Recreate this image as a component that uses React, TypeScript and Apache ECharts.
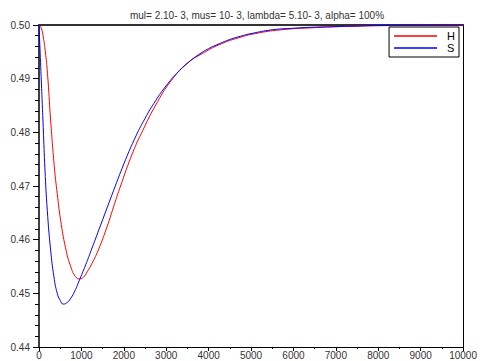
import React, { useEffect, useRef } from "react";
import * as echarts from "echarts";

const titleText = "mul= 2.10- 3, mus= 10- 3, lambda= 5.10- 3, alpha= 100%";

const hTime = [0, 50, 100, 150, 200, 274, 368, 430, 509, 626, 743, 861, 955, 1050, 1135, 1250, 1400, 1600, 1761, 1901, 2214, 2450, 2739, 3114, 3490, 3900, 4300, 4700, 5100, 5700, 6500, 7500, 8500, 10000];
const hValues = [0.5, 0.4995, 0.4978, 0.495, 0.491, 0.4823, 0.473, 0.4686, 0.4637, 0.4585, 0.4551, 0.4531, 0.4527, 0.453, 0.454, 0.4556, 0.4581, 0.4623, 0.4662, 0.4695, 0.4763, 0.4804, 0.4849, 0.4896, 0.4928, 0.4949, 0.4965, 0.4976, 0.4984, 0.4991, 0.4995, 0.4998, 0.4999, 0.5];

const sTime = [0, 50, 100, 141, 195, 274, 352, 430, 500, 571, 650, 743, 861, 939, 1100, 1230, 1500, 1761, 2000, 2250, 2500, 2750, 3000, 3250, 3500, 3750, 4000, 4250, 4500, 4750, 5000, 5500, 6000, 6500, 7000, 7500, 8000, 9000, 10000];
const sValues = [0.5, 0.4904, 0.4809, 0.473, 0.4655, 0.4581, 0.4531, 0.45, 0.4487, 0.448, 0.4482, 0.449, 0.4507, 0.4522, 0.4553, 0.458, 0.4637, 0.4692, 0.4741, 0.4787, 0.4826, 0.4859, 0.4887, 0.491, 0.4929, 0.4944, 0.4956, 0.4965, 0.4973, 0.4979, 0.4984, 0.4991, 0.4994, 0.4996, 0.4997, 0.4998, 0.4999, 0.49995, 0.5];

const seriesNames = ["H", "S"];

export default function App() {
  const ref = useRef<HTMLDivElement>(null);
  useEffect(() => {
    if (!ref.current) return;
    const chart = echarts.init(ref.current, null, { renderer: "svg" });
    const font = "Liberation Sans, Arial, sans-serif";
    chart.setOption({
      animation: false,
      textStyle: { fontFamily: font },
      title: {
        text: titleText,
        left: 252,
        textAlign: "center",
        top: 5,
        textStyle: { fontSize: 10, fontWeight: "normal", color: "#333", fontFamily: font },
      },
      legend: {
        orient: "vertical",
        right: 21,
        top: 27,
        icon: "rect",
        itemWidth: 43,
        itemHeight: 1.5,
        itemGap: 0,
        padding: [3, 4, 3, 5],
        borderColor: "#000",
        borderWidth: 1,
        align: "left",
        textStyle: { fontSize: 11, lineHeight: 12, color: "#000", fontFamily: font, padding: [0, 0, 0, 5] },
        data: seriesNames,
      },
      grid: { left: 39, right: 15, top: 25, bottom: 14, containLabel: false },
      xAxis: [
        {
          type: "value",
          min: 0,
          max: 10000,
          interval: 1000,
          splitLine: { show: false },
          axisLine: { show: true, onZero: false, lineStyle: { color: "#000", width: 1 } },
          axisTick: { show: true, inside: false, length: 4, lineStyle: { color: "#000" } },
          minorTick: { show: true, splitNumber: 2, length: 2, lineStyle: { color: "#000" } },
          axisLabel: {
            fontSize: 10,
            color: "#333",
            margin: 3,
            fontFamily: font,
            formatter: (v: number) => String(v),
          },
        },
        {
          type: "value",
          position: "top",
          min: 0,
          max: 10000,
          splitLine: { show: false },
          axisLine: { show: true, onZero: false, lineStyle: { color: "#333", width: 2 } },
          axisTick: { show: false },
          axisLabel: { show: false },
        },
      ],
      yAxis: [
        {
          type: "value",
          min: 0.44,
          max: 0.5,
          interval: 0.01,
          splitLine: { show: false },
          axisLine: { show: true, onZero: false, lineStyle: { color: "#000", width: 1.5 } },
          axisTick: { show: true, inside: false, length: 6, lineStyle: { color: "#000" } },
          minorTick: { show: true, splitNumber: 5, length: 4, lineStyle: { color: "#000" } },
          axisLabel: {
            fontSize: 10,
            color: "#333",
            margin: 9,
            fontFamily: font,
            formatter: (v: number) => v.toFixed(2),
          },
        },
        {
          type: "value",
          position: "right",
          min: 0,
          max: 1,
          splitLine: { show: false },
          axisLine: { show: true, onZero: false, lineStyle: { color: "#000", width: 1 } },
          axisTick: { show: false },
          axisLabel: { show: false },
        },
      ],
      series: [
        {
          name: seriesNames[0],
          type: "line",
          data: hTime.map((t, i) => [t, hValues[i]]),
          symbol: "none",
          smooth: 0.5,
          lineStyle: { color: "#ff0000", width: 1 },
          itemStyle: { color: "#ff0000" },
          z: 3,
        },
        {
          name: seriesNames[1],
          type: "line",
          data: sTime.map((t, i) => [t, sValues[i]]),
          symbol: "none",
          smooth: 0.5,
          lineStyle: { color: "#0000ff", width: 1 },
          itemStyle: { color: "#0000ff" },
          z: 3,
        },
      ],
    });
    return () => chart.dispose();
  }, []);
  return <div ref={ref} style={{ width: 480, height: 361, position: "absolute", left: 0, top: 0 }} />;
}
